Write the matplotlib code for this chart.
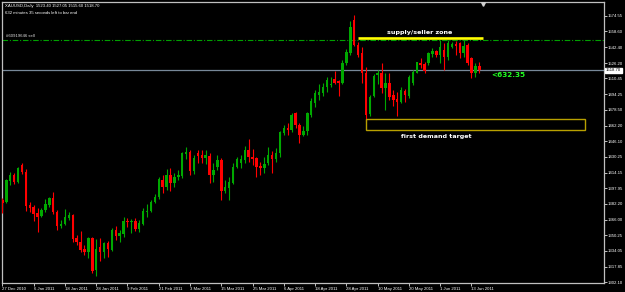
import matplotlib
matplotlib.use("Agg")
import matplotlib.pyplot as plt
from matplotlib.patches import Rectangle
from matplotlib import font_manager
import numpy as np

# ---------------- data ----------------
opens = [1386.0, 1383.7, 1405.9, 1411.7, 1404.2, 1421.9, 1415.0, 1381.0, 1379.2, 1372.5,
         1370.1, 1375.9, 1381.0, 1387.8, 1373.8, 1359.5, 1361.5, 1368.0, 1370.7, 1347.5,
         1343.5, 1335.7, 1333.3, 1347.0, 1314.5, 1338.4, 1333.3, 1341.9, 1335.0, 1355.4,
         1349.2, 1351.3, 1364.9, 1363.6, 1364.9, 1356.4, 1361.5, 1374.1, 1374.8, 1384.3,
         1388.8, 1406.6, 1399.1, 1411.7, 1403.2, 1409.3, 1410.6, 1432.8, 1435.5, 1416.0,
         1433.9, 1432.0, 1428.7, 1431.5, 1411.7, 1419.5, 1427.0, 1395.6, 1398.1, 1403.8,
         1419.5, 1424.0, 1427.0, 1437.2, 1430.3, 1428.7, 1420.9, 1418.5, 1423.6, 1432.0,
         1427.7, 1433.9, 1455.0, 1460.1, 1457.7, 1474.8, 1462.8, 1452.6, 1457.1, 1473.0,
         1485.0, 1493.5, 1495.2, 1501.3, 1503.5, 1509.8, 1507.9, 1506.1, 1525.9, 1536.1,
         1570.2, 1544.6, 1536.1, 1516.2, 1474.0, 1492.8, 1513.9, 1516.2, 1500.3, 1506.1,
         1493.0, 1489.1, 1486.6, 1497.6, 1492.8, 1505.4, 1516.2, 1526.5, 1525.2, 1525.9,
         1535.1, 1538.8, 1533.9, 1539.5, 1532.0, 1542.2, 1545.3, 1546.3, 1536.7, 1544.6,
         1531.6, 1515.7, 1523.4]
highs = [1388.0, 1407.3, 1414.4, 1413.4, 1420.2, 1424.0, 1417.5, 1384.3, 1381.0, 1377.6,
         1377.6, 1387.1, 1389.5, 1394.0, 1375.9, 1365.6, 1376.6, 1373.8, 1371.8, 1350.3,
         1354.4, 1340.1, 1348.0, 1348.0, 1346.0, 1347.0, 1343.5, 1344.5, 1357.1, 1359.5,
         1355.4, 1368.4, 1367.4, 1366.6, 1367.4, 1365.6, 1377.6, 1382.0, 1386.1, 1392.2,
         1409.3, 1411.7, 1417.5, 1418.5, 1413.4, 1416.8, 1435.5, 1440.6, 1437.2, 1432.0,
         1437.2, 1437.2, 1437.0, 1433.9, 1423.6, 1432.0, 1429.3, 1406.6, 1410.0, 1423.6,
         1430.3, 1432.0, 1441.3, 1448.1, 1437.9, 1430.3, 1425.3, 1430.3, 1439.9, 1436.5,
         1438.9, 1456.8, 1462.8, 1465.1, 1474.8, 1476.4, 1464.5, 1461.9, 1476.4, 1490.1,
         1498.6, 1504.7, 1505.4, 1512.2, 1512.2, 1518.3, 1508.8, 1529.3, 1540.2, 1569.4,
         1575.3, 1548.0, 1542.9, 1522.4, 1493.5, 1515.0, 1519.0, 1525.9, 1515.7, 1515.7,
         1498.6, 1496.9, 1502.0, 1499.3, 1513.9, 1519.0, 1527.5, 1531.6, 1527.5, 1537.7,
         1541.2, 1539.5, 1549.7, 1546.3, 1549.7, 1548.0, 1549.0, 1548.0, 1549.7, 1546.3,
         1532.6, 1525.9, 1527.05]
lows = [1372.5, 1382.7, 1401.5, 1402.5, 1403.2, 1412.7, 1375.1, 1373.8, 1364.6, 1353.1,
        1369.0, 1374.1, 1379.2, 1371.5, 1355.4, 1357.1, 1360.5, 1365.6, 1343.5, 1340.1,
        1333.3, 1329.9, 1326.5, 1311.2, 1308.4, 1323.8, 1326.5, 1328.1, 1334.0, 1345.0,
        1343.5, 1348.5, 1358.8, 1352.0, 1354.7, 1353.7, 1360.5, 1368.4, 1374.1, 1382.7,
        1386.8, 1393.0, 1396.3, 1395.6, 1399.7, 1406.6, 1408.3, 1427.7, 1411.7, 1412.7,
        1423.6, 1423.6, 1423.0, 1403.8, 1404.9, 1416.8, 1386.1, 1393.0, 1386.1, 1402.5,
        1418.5, 1419.0, 1423.6, 1425.3, 1421.9, 1410.0, 1411.7, 1413.4, 1421.9, 1413.4,
        1425.3, 1430.3, 1452.6, 1452.6, 1456.0, 1459.4, 1444.7, 1451.6, 1452.6, 1471.3,
        1481.6, 1488.3, 1492.5, 1496.8, 1502.0, 1504.7, 1492.5, 1504.7, 1524.1, 1534.4,
        1543.6, 1532.6, 1505.4, 1466.0, 1472.0, 1491.4, 1505.0, 1495.2, 1478.1, 1488.3,
        1482.3, 1472.0, 1485.3, 1486.6, 1490.1, 1503.7, 1515.7, 1520.8, 1515.7, 1524.1,
        1532.6, 1532.6, 1526.2, 1519.0, 1529.3, 1541.2, 1534.4, 1531.0, 1532.6, 1524.1,
        1510.8, 1512.2, 1515.6]
closes = [1383.5, 1406.6, 1411.7, 1404.2, 1419.1, 1415.0, 1380.0, 1378.2, 1371.5, 1369.0,
          1375.9, 1382.0, 1388.5, 1373.8, 1359.8, 1361.9, 1369.0, 1370.4, 1345.9, 1343.5,
          1335.0, 1332.9, 1347.0, 1313.8, 1336.0, 1333.3, 1341.9, 1336.0, 1355.4, 1349.2,
          1352.6, 1364.9, 1363.6, 1364.2, 1356.1, 1362.9, 1374.8, 1374.8, 1384.3, 1388.8,
          1407.3, 1399.1, 1411.7, 1403.2, 1409.3, 1411.7, 1433.9, 1434.9, 1416.0, 1428.7,
          1431.1, 1428.7, 1432.0, 1411.7, 1416.8, 1427.0, 1395.6, 1399.7, 1404.9, 1419.5,
          1427.7, 1428.0, 1437.2, 1429.8, 1427.7, 1419.5, 1418.5, 1422.9, 1432.0, 1427.7,
          1434.5, 1456.1, 1460.0, 1457.7, 1473.0, 1462.8, 1452.6, 1457.1, 1474.8, 1487.6,
          1495.2, 1496.8, 1502.0, 1508.8, 1504.7, 1506.1, 1506.1, 1526.5, 1537.7, 1562.7,
          1544.6, 1534.4, 1515.6, 1473.0, 1491.1, 1512.9, 1516.2, 1500.9, 1506.1, 1491.8,
          1488.8, 1486.0, 1498.6, 1493.5, 1512.2, 1517.3, 1526.9, 1524.1, 1518.3, 1536.1,
          1538.4, 1534.4, 1542.5, 1532.6, 1546.3, 1545.6, 1543.6, 1536.1, 1543.6, 1525.9,
          1515.7, 1523.4, 1518.7]

date_labels = ["27 Dec 2010", "6 Jan 2011", "18 Jan 2011", "28 Jan 2011", "9 Feb 2011",
               "21 Feb 2011", "3 Mar 2011", "15 Mar 2011", "25 Mar 2011", "6 Apr 2011",
               "18 Apr 2011", "28 Apr 2011", "10 May 2011", "20 May 2011", "1 Jun 2011",
               "13 Jun 2011"]
date_label_bars = [0, 8, 16, 24, 32, 40, 48, 56, 64, 72, 80, 88, 96, 104, 112, 120]

price_ticks = [1574.55, 1558.60, 1542.40, 1526.20, 1510.45, 1494.25, 1478.50, 1462.20,
               1446.10, 1430.25, 1414.15, 1397.95, 1382.20, 1366.00, 1350.25, 1334.05,
               1317.85, 1302.10]

last_price = 1518.70
sell_level = 1549.4
supply_level = 1551.4
demand_low, demand_high = 1458.0, 1468.9
header = "XAUUSD,Daily  1523.40 1527.05 1515.60 1518.70"
timer_text = "632 minutes 35 seconds left to bar end"
order_text = "#60919646 sell"
pips_text = "<632.35"

# ---------------- fonts ----------------
installed = {f.name for f in font_manager.fontManager.ttflist}
if "Liberation Sans Narrow" in installed:
    fam = ["Liberation Sans Narrow", "DejaVu Sans"]
    small = 3.85
else:
    fam = ["Liberation Sans", "DejaVu Sans"]
    small = 3.1

# ---------------- figure ----------------
W, H = 625, 292
fig = plt.figure(figsize=(W / 100, H / 100), dpi=100, facecolor="black")
ax = fig.add_axes([2 / W, (H - 283) / H, 602 / W, 281 / H], facecolor="black")

o = np.array(opens); h = np.array(highs); l = np.array(lows); c = np.array(closes)
x = np.arange(len(o))
up = c >= o
green = "#00a800"
red = "#ff0000"
cols = np.where(up, green, red)

ax.vlines(x, l, h, colors=cols, linewidth=0.8, zorder=3)
body_bottom = np.minimum(o, c)
body_h = np.maximum(np.abs(c - o), 0.9)
ax.bar(x, body_h, bottom=body_bottom, width=0.62, color=cols, linewidth=0, zorder=4)

ax.set_xlim(-0.1, 153.9)
ax.set_ylim(1301.2, 1588.6)

# level lines
ax.axhline(sell_level, color="#00a000", linewidth=0.8, linestyle=(0, (5, 1.6, 1, 1.6)), zorder=2)
ax.axhline(last_price, color="#778899", linewidth=0.9, zorder=2)

# supply line
ax.plot([91, 123], [supply_level, supply_level], color="#ffff00", linewidth=1.9,
        solid_capstyle="butt", zorder=5)
ax.text(106.8, 1557.4, "supply/seller zone", color="white", fontsize=4.6,
        fontweight="bold", ha="center", va="center", family="DejaVu Sans", zorder=6)

# demand box
ax.add_patch(Rectangle((93.0, demand_low), 149.0 - 93.0, demand_high - demand_low,
                       fill=False, edgecolor="#b8a000", linewidth=1.0, zorder=5))
ax.text(110.9, 1451.2, "first demand target", color="white", fontsize=4.6,
        fontweight="bold", ha="center", va="center", family="DejaVu Sans", zorder=6)

ax.text(125.0, 1513.6, pips_text, color="#22ff22", fontsize=5.2, fontweight="bold",
        ha="left", va="center", family="DejaVu Sans", zorder=6)

ax.text(0.8, sell_level + 4.5, order_text, color="#e0e0e0", fontsize=small,
        ha="left", va="center", family=fam, zorder=6)

# axes styling
for s in ax.spines.values():
    s.set_color("#c0c0c0")
    s.set_linewidth(0.9)

ax.yaxis.tick_right()
ax.set_yticks(price_ticks)
ax.set_yticklabels([f"{v:.2f}" for v in price_ticks])
ax.tick_params(axis="y", colors="#c0c0c0", length=2, width=0.7, pad=0.9,
               labelsize=small, labelcolor="white")
for t in ax.get_yticklabels():
    t.set_family(fam)

ax.set_xticks(date_label_bars)
ax.set_xticklabels(date_labels)
ax.tick_params(axis="x", colors="#c0c0c0", length=2.5, width=0.7, pad=0.5,
               labelsize=small, labelcolor="white")
for t in ax.get_xticklabels():
    t.set_family(fam)
    t.set_ha("left")

# current price label
ax.annotate(f"{last_price:.2f}", xy=(1.0, last_price), xycoords=("axes fraction", "data"),
            xytext=(1.3, 0), textcoords="offset points", ha="left", va="center",
            fontsize=small, color="black", family=fam,
            bbox=dict(boxstyle="square,pad=0.15", fc="white", ec="white"),
            annotation_clip=False, zorder=10)

# header texts
fig.text(5 / W, 1 - 6 / H, header, color="white", fontsize=small, ha="left",
         va="center", family=fam)
fig.text(5 / W, 1 - 13 / H, timer_text, color="white", fontsize=small, ha="left",
         va="center", family=fam)

# chart shift marker
fig.lines.append(plt.Line2D([483 / W], [1 - 3.5 / H], marker="v", markersize=2.6,
                            color="#d0d0d0", linestyle="none", transform=fig.transFigure))

fig.savefig("out.png", dpi=100, facecolor="black")
